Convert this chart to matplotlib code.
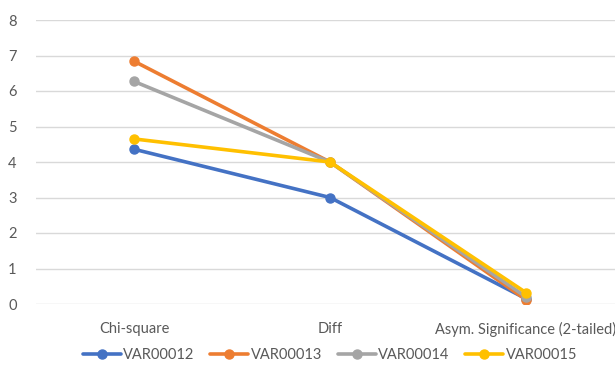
import matplotlib
matplotlib.use("Agg")
import matplotlib.pyplot as plt

categories = ["Chi-square", "Diff", "Asym. Significance (2-tailed)"]
series_names = ["VAR00012", "VAR00013", "VAR00014", "VAR00015"]
var12 = [4.36, 3.0, 0.15]
var13 = [6.84, 4.0, 0.12]
var14 = [6.27, 4.0, 0.20]
var15 = [4.65, 4.0, 0.32]
yticks = [0, 1, 2, 3, 4, 5, 6, 7, 8]

colors = ["#4472C4", "#ED7D31", "#A5A5A5", "#FFC000"]
plt.rcParams['font.family'] = ['Lato', 'DejaVu Sans']

fig = plt.figure(figsize=(6.15, 3.67), dpi=100)
W, H = 615, 367
ax = fig.add_axes([36 / W, 63 / H, 588 / W, 284 / H])
x = list(range(len(categories)))
for vals, name, c in zip([var12, var13, var14, var15], series_names, colors):
    ax.plot(x, vals, color=c, lw=2.6, marker='o', markersize=6.5, label=name,
            solid_capstyle='round', zorder=3)

ax.set_xlim(-0.5, 2.5)
ax.set_ylim(0, 8)
ax.set_yticks(yticks)
ax.set_xticks(x)
ax.set_xticklabels(categories)
ax.grid(axis='y', color='#D9D9D9', lw=1)
ax.set_axisbelow(True)
for s in ax.spines.values():
    s.set_visible(False)
ax.tick_params(length=0, labelsize=10.5, labelcolor='#595959')
ax.tick_params(axis='x', pad=13)
ax.tick_params(axis='y', pad=14)

fig.legend(loc='center', bbox_to_anchor=(330 / W, 1 - 355 / H), ncol=4, frameon=False,
           fontsize=10.5, labelcolor='#595959', handlelength=2.6, handletextpad=0.15,
           columnspacing=1.1)
fig.savefig("out.png", dpi=100)
